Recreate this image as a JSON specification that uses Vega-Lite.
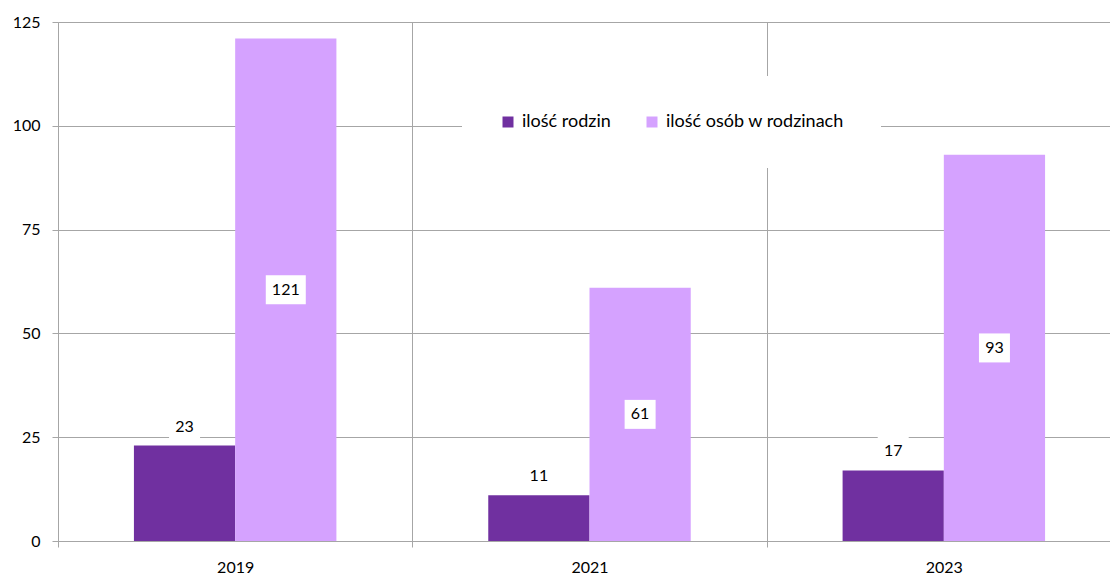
{
  "$schema": "https://vega.github.io/schema/vega-lite/v6.json",
  "autosize": {"type": "none"},
  "padding": {"left": 58, "top": 22, "right": 0, "bottom": 35},
  "width": 1052,
  "height": 519,
  "background": "white",
  "data": {
    "values": [
      {"year": "2019", "series": "ilość rodzin", "value": 23},
      {"year": "2019", "series": "ilość osób w rodzinach", "value": 121},
      {"year": "2021", "series": "ilość rodzin", "value": 11},
      {"year": "2021", "series": "ilość osób w rodzinach", "value": 61},
      {"year": "2023", "series": "ilość rodzin", "value": 17},
      {"year": "2023", "series": "ilość osób w rodzinach", "value": 93}
    ]
  },
  "encoding": {
    "x": {
      "field": "year",
      "type": "nominal",
      "scale": {"range": [0, 1063], "paddingInner": 0, "paddingOuter": 0},
      "axis": {
        "title": null,
        "labelAngle": 0,
        "grid": true,
        "tickBand": "extent",
        "gridColor": "#A6A6A6",
        "domainColor": "#A6A6A6",
        "tickColor": "#A6A6A6",
        "tickSize": 6,
        "labelPadding": 12,
        "labelFont": "Lato",
        "labelFontSize": 16,
        "labelColor": "#000000"
      }
    },
    "xOffset": {
      "field": "series",
      "type": "nominal",
      "scale": {"domain": ["ilość rodzin", "ilość osób w rodzinach"], "paddingInner": 0, "paddingOuter": 0.75}
    }
  },
  "layer": [
    {
      "mark": {"type": "bar"},
      "encoding": {
        "y": {
          "field": "value",
          "type": "quantitative",
          "scale": {"domain": [0, 125], "nice": false},
          "axis": {
            "title": null,
            "values": [0, 25, 50, 75, 100, 125],
            "grid": true,
            "gridColor": "#A6A6A6",
            "domainColor": "#A6A6A6",
            "tickColor": "#A6A6A6",
            "tickSize": 6,
            "labelPadding": 12,
            "labelFont": "Lato",
            "labelFontSize": 16,
            "labelColor": "#000000"
          }
        },
        "color": {
          "field": "series",
          "type": "nominal",
          "scale": {"domain": ["ilość rodzin", "ilość osób w rodzinach"], "range": ["#7030A0", "#D5A2FF"]},
          "legend": {
            "title": null,
            "orient": "none",
            "legendX": 404,
            "legendY": 54,
            "direction": "horizontal",
            "fillColor": "white",
            "padding": 37,
            "symbolType": "square",
            "symbolSize": 121,
            "symbolStrokeWidth": 0,
            "labelFont": "Lato",
            "labelFontSize": 18,
            "labelLimit": 400,
            "labelColor": "#000000",
            "labelOffset": 5,
            "columnPadding": 32
          }
        }
      }
    },
    {
      "transform": [{"filter": "datum.series === 'ilość rodzin'"}],
      "mark": {"type": "point", "filled": true, "color": "white", "opacity": 1, "strokeWidth": 0, "yOffset": -19, "shape": "M-1,-0.935H1V0.935H-1Z", "size": 961},
      "encoding": {
        "y": {"field": "value", "type": "quantitative", "scale": {"domain": [0, 125], "nice": false}, "axis": null}
      }
    },
    {
      "transform": [{"filter": "datum.series === 'ilość rodzin'"}],
      "mark": {"type": "text", "yOffset": -19, "baseline": "middle", "align": "center", "font": "Lato", "fontSize": 16, "color": "#000000"},
      "encoding": {
        "y": {"field": "value", "type": "quantitative", "scale": {"domain": [0, 125], "nice": false}, "axis": null},
        "text": {"field": "value", "type": "quantitative"}
      }
    },
    {
      "transform": [{"filter": "datum.series === 'ilość osób w rodzinach'"}],
      "mark": {"type": "point", "filled": true, "color": "white", "opacity": 1, "strokeWidth": 0},
      "encoding": {
        "y": {"field": "value", "type": "quantitative", "scale": {"domain": [0, 250], "nice": false}, "axis": null},
        "shape": {"condition": {"test": "datum.value >= 100", "value": "M-1,-0.725H1V0.725H-1Z"}, "value": "M-1,-0.935H1V0.935H-1Z"},
        "size": {"condition": {"test": "datum.value >= 100", "value": 1600}, "value": 961}
      }
    },
    {
      "transform": [{"filter": "datum.series === 'ilość osób w rodzinach'"}],
      "mark": {"type": "text", "baseline": "middle", "align": "center", "font": "Lato", "fontSize": 16, "color": "#000000"},
      "encoding": {
        "y": {"field": "value", "type": "quantitative", "scale": {"domain": [0, 250], "nice": false}, "axis": null},
        "text": {"field": "value", "type": "quantitative"}
      }
    }
  ],
  "resolve": {"scale": {"y": "independent"}},
  "config": {
    "view": {"stroke": null},
    "font": "Lato"
  }
}
